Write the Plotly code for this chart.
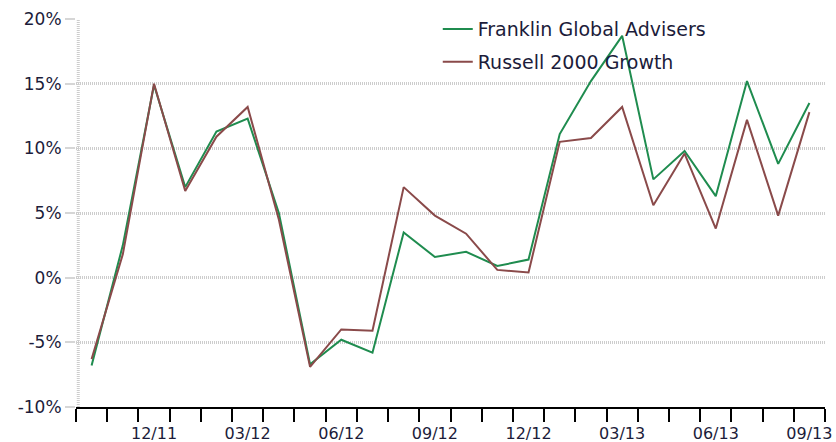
import plotly.graph_objects as go

months = ["10/11", "11/11", "12/11", "01/12", "02/12", "03/12", "04/12", "05/12",
          "06/12", "07/12", "08/12", "09/12", "10/12", "11/12", "12/12", "01/13",
          "02/13", "03/13", "04/13", "05/13", "06/13", "07/13", "08/13", "09/13"]
franklin = [-6.8, 2.5, 14.9, 7.0, 11.3, 12.3, 5.0, -6.7, -4.8, -5.8, 3.5, 1.6,
            2.0, 0.9, 1.4, 11.1, 15.2, 18.7, 7.6, 9.8, 6.3, 15.2, 8.8, 13.5]
russell = [-6.3, 1.8, 15.0, 6.7, 10.9, 13.2, 4.5, -6.9, -4.0, -4.1, 7.0, 4.8,
           3.4, 0.6, 0.4, 10.5, 10.8, 13.2, 5.6, 9.6, 3.8, 12.2, 4.8, 12.8]
series_names = ["Franklin Global Advisers", "Russell 2000 Growth"]
label_months = ["12/11", "03/12", "06/12", "09/12", "12/12", "03/13", "06/13", "09/13"]
y_ticks = [-10, -5, 0, 5, 10, 15, 20]

GREEN = "#1f8c4f"
BROWN = "#8a4a4a"
TEXT = "#1c1c3a"
GRID = "#cdcdcd"
FONT = "DejaVu Sans"

idx = list(range(len(months)))
fig = go.Figure()
fig.add_trace(go.Scatter(x=idx, y=franklin, mode="lines", name=series_names[0],
                         legendgroup="a", line=dict(color=GREEN, width=2)))
fig.add_trace(go.Scatter(x=idx, y=russell, mode="lines", name=series_names[1],
                         legendgroup="b", line=dict(color=BROWN, width=2)))

n = len(months)
boundaries = [i - 0.5 for i in range(n + 1)]
label_pos = [months.index(m) for m in label_months]

fig.update_layout(
    width=836, height=442,
    margin=dict(l=76, r=11, t=18, b=35),
    plot_bgcolor="white", paper_bgcolor="white",
    font=dict(family=FONT, color=TEXT, size=16),
    showlegend=True,
    legend=dict(x=0.483, y=1.02, xanchor="left", yanchor="top",
                bgcolor="rgba(0,0,0,0)", font=dict(size=19, color=TEXT),
                itemwidth=30, tracegroupgap=5),
    xaxis=dict(range=[-0.5, n - 0.5], tickmode="array", tickvals=boundaries,
               showticklabels=False, ticks="outside", ticklen=13, tickwidth=2,
               tickcolor="black", showline=True, linecolor="black", linewidth=2,
               showgrid=False, zeroline=False, automargin=False),
    xaxis2=dict(range=[-0.5, n - 0.5], overlaying="x", side="bottom",
                tickmode="array", tickvals=label_pos, ticktext=label_months,
                ticks="outside", ticklen=12, tickcolor="rgba(0,0,0,0)",
                showgrid=False, zeroline=False, showline=False, automargin=False,
                tickfont=dict(size=16, color=TEXT)),
    yaxis=dict(range=[-10, 20], tickmode="array", tickvals=y_ticks,
               ticktext=[f"{v}%" for v in y_ticks], showgrid=True,
               gridcolor=GRID, gridwidth=3, griddash="1px,1px",
               zeroline=False, showline=False, ticks="outside", ticklen=10,
               tickcolor="#d6d6d6", tickwidth=2, automargin=False,
               tickfont=dict(size=17, color=TEXT)),
)
# dotted left axis line
fig.add_shape(type="line", xref="x domain", yref="y domain", x0=0.003, x1=0.003,
              y0=0, y1=1, line=dict(color=GRID, width=3, dash="1px,1px"), layer="below")
# invisible trace to anchor the label axis
fig.add_trace(go.Scatter(x=[0], y=[None], xaxis="x2", showlegend=False,
                         hoverinfo="skip", mode="lines"))

fig.write_html("out.html", config={"displayModeBar": False},
               post_script="document.body.style.margin='0';document.body.style.overflow='hidden';")
